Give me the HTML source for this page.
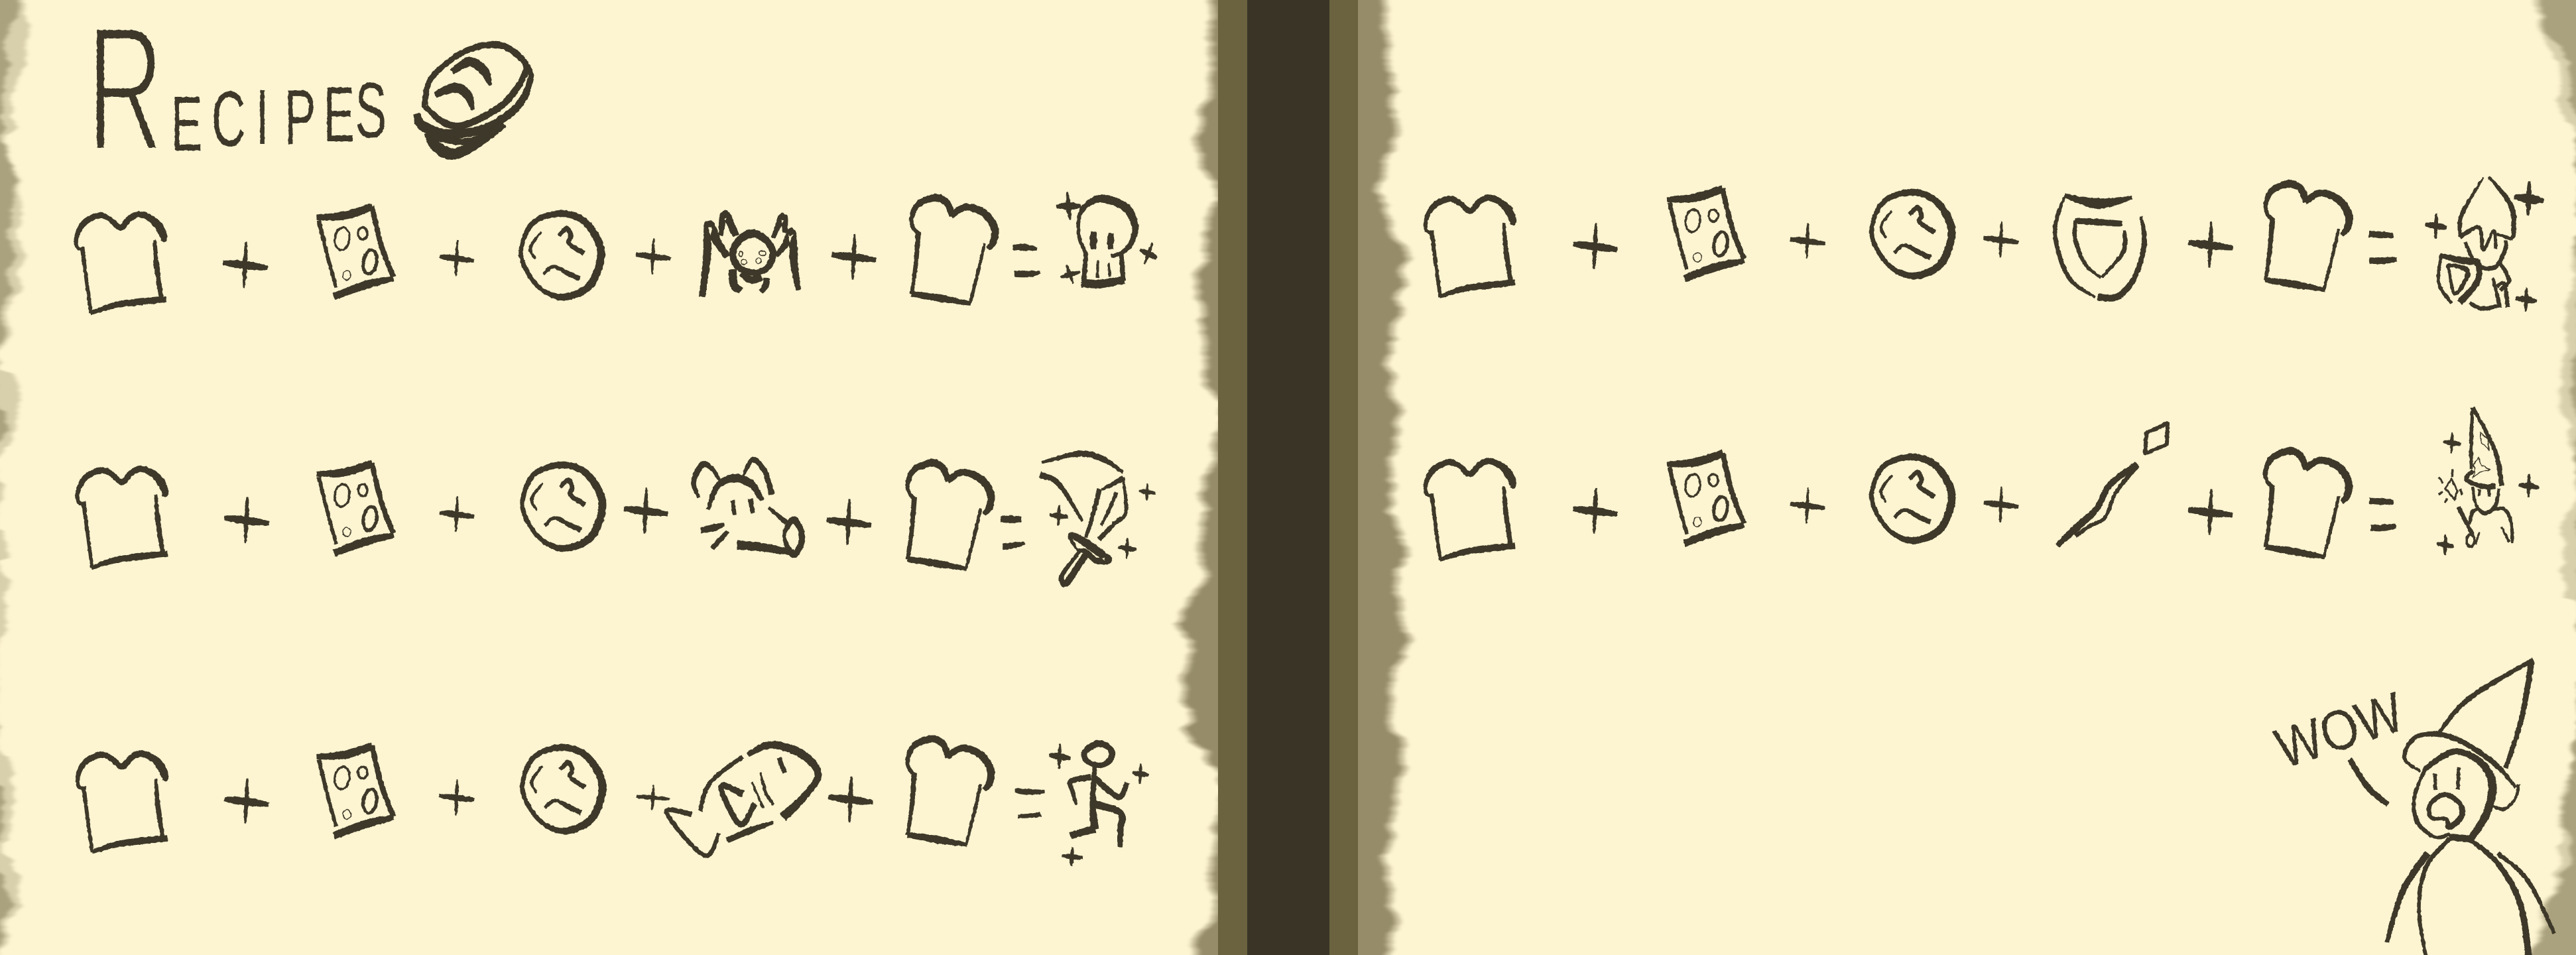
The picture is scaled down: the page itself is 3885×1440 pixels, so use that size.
<!DOCTYPE html>
<html lang="en">
<head>
<meta charset="utf-8">
<title>Recipes</title>
<style>
html,body{margin:0;padding:0;background:#fdf4d1}
svg{display:block}
path[data-brush]{fill:#3d3829;stroke:#3d3829;stroke-width:1.2;stroke-linejoin:round;fill-rule:evenodd}
ellipse,polygon.line{fill:none;stroke:#3d3829;stroke-width:3.5}
.ink text{font-family:"Liberation Sans",sans-serif;fill:#3d3829}
</style>
</head>
<body>
<svg xmlns="http://www.w3.org/2000/svg" width="3885" height="1440" viewBox="0 0 3885 1440">
<defs>
  <filter id="torn" filterUnits="userSpaceOnUse" x="-60" y="-60" width="4005" height="1560" color-interpolation-filters="sRGB">
    <feTurbulence type="fractalNoise" baseFrequency="0.003 0.035" numOctaves="3" seed="7" result="n"/>
    <feDisplacementMap in="SourceGraphic" in2="n" scale="30" xChannelSelector="R" yChannelSelector="A"/>
    <feGaussianBlur stdDeviation="3.5 0.8"/>
  </filter>
  <filter id="rough" filterUnits="userSpaceOnUse" x="0" y="0" width="3885" height="1440" color-interpolation-filters="sRGB">
    <feTurbulence type="fractalNoise" baseFrequency="0.18" numOctaves="2" seed="3" result="n"/>
    <feDisplacementMap in="SourceGraphic" in2="n" scale="3" xChannelSelector="R" yChannelSelector="G"/>
  </filter>
  <g id="bread-a">
    <path data-brush="124 376 2, 116 372 3, 116 355 4, 128 335 6, 150 325 6, 165 330 5, 182 343 6, 195 330 6, 210 323 6, 228 330 7, 240 342 9, 247 358 7, 245 364 3"/>
    <path data-brush="233 362 2, 236 400 5, 243 448 4"/>
    <path data-brush="124 373 4, 130 420 3, 137 472 3"/>
    <path data-brush="137 472 3, 170 461 6, 210 455 7, 250 451 6"/>
  </g>
  <g id="bread-b">
    <path data-brush="1385 352 4, 1377 343 3, 1375 328 4, 1385 308 6, 1411 298 8, 1428 306 7, 1436 325 6"/>
    <path data-brush="1435 325 6, 1457 312 7, 1485 322 8, 1500 345 8, 1498 365 7, 1490 375 4"/>
    <path data-brush="1385 350 5, 1381 400 4, 1375 443 3"/>
    <path data-brush="1485 367 2, 1475 410 3, 1463 457 2"/>
    <path data-brush="1375 443 5, 1420 450 8, 1464 458 3"/>
  </g>
  <g id="oven">
    <path data-brush="478 328 5, 520 325 9, 561 312 8"/>
    <path data-brush="561 312 5, 575 370 5, 593 417 5"/>
    <path data-brush="593 420 5, 550 430 9, 504 447 7"/>
    <path data-brush="481 333 4, 495 390 3, 507 433 3"/>
    <ellipse cx="516" cy="360" rx="11" ry="17" transform="rotate(8 516 360)"/>
    <ellipse cx="547" cy="352" rx="7" ry="9"/>
    <ellipse cx="558" cy="395" rx="10" ry="18" transform="rotate(10 558 395)" style="stroke-width:5"/>
    <ellipse cx="523" cy="415" rx="6" ry="7" style="stroke-width:1.5"/>
  </g>
  <g id="dough">
    <path data-closed="1" data-brush="845 322 7, 880 333 7, 903 365 8, 905 395 8, 888 432 8, 850 448 7, 815 435 4, 790 400 4, 787 370 4, 805 335 5"/>
    <path data-brush="843 355 3, 855 345 5, 861 357 4, 858 367 4, 880 382 5"/>
    <path data-brush="816 350 1, 800 373 3, 807 390 1"/>
    <path data-brush="820 413 3, 835 402 3, 858 413 5, 874 420 5"/>
  </g>
  <g id="plus">
    <path data-brush="-33 -4 4, -15 -2 8, 10 1 8, 33 4 4"/>
    <path data-brush="1 -35 1, 0 -10 4, -1 10 4, -2 33 1"/>
  </g>
  <g id="spark">
    <path data-brush="-33 -4 5, -12 -2 13, 12 1 13, 33 4 5"/>
    <path data-brush="1 -35 3, 0 -10 9, -1 10 9, -2 33 3"/>
  </g>
</defs>

<rect width="3885" height="1440" fill="#fdf4d1"/>

<g filter="url(#torn)">
  <polygon fill="#aaa17e" opacity=".45" points="-30,-30 45,-30 35,20 48,41 40,90 25,125 15,150 22,185 12,215 15,239 24,265 32,320 30,360 31,395 30,430 12,470 12,500 8,530 -5,548 -5,555 22,565 30,605 20,650 16,675 -5,690 -5,730 6,745 -5,770 -5,790 10,810 10,840 -5,850 14,875 12,910 8,935 8,950 -5,975 -5,1130 11,1140 22,1180 18,1230 14,1255 2,1285 24,1310 27,1340 30,1370 10,1395 6,1420 -5,1470 -30,1470"/>
  <polygon fill="#aaa17e" points="-30,-30 37,-30 25,30 8,60 12,100 3,145 5,210 14,240 22,275 17,320 17,395 12,440 3,478 5,515 -10,545 -10,610 8,620 10,650 -10,680 -10,1170 4,1180 5,1250 -10,1280 -10,1300 8,1340 20,1365 2,1395 -10,1470 -30,1470"/>
</g>
<g filter="url(#torn)">
  <polygon fill="#aaa17e" opacity=".45" points="3822,-30 3832,46 3858,101 3865,184 3895,211 3895,321 3873,441 3863,551 3863,624 3882,670 3895,700 3870,780 3862,845 3868,909 3895,918 3895,1083 3863,1185 3865,1249 3848,1340 3828,1387 3817,1470 3915,1470 3915,-30"/>
  <polygon fill="#aaa17e" points="3835,-30 3837,46 3865,73 3873,119 3890,184 3890,500 3878,540 3880,600 3890,640 3890,1100 3872,1148 3868,1230 3878,1276 3857,1331 3835,1387 3818,1470 3915,1470 3915,-30"/>
</g>
<g filter="url(#torn)">
  <polygon fill="#968c6a" opacity=".5" points="1813,-30 1820,55 1827,119 1813,156 1805,211 1817,257 1832,294 1817,340 1807,404 1803,450 1813,505 1817,560 1836,611 1833,643 1817,707 1803,808 1813,863 1800,900 1775,937 1790,973 1782,1038 1787,1102 1827,1157 1835,1194 1828,1286 1818,1322 1827,1359 1803,1423 1800,1470 1860,1470 1860,-30"/>
  <polygon fill="#968c6a" transform="translate(9 0)" points="1813,-30 1820,55 1827,119 1813,156 1805,211 1817,257 1832,294 1817,340 1807,404 1803,450 1813,505 1817,560 1836,611 1833,643 1817,707 1803,808 1813,863 1800,900 1775,937 1790,973 1782,1038 1787,1102 1827,1157 1835,1194 1828,1286 1818,1322 1827,1359 1803,1423 1800,1470 1860,1470 1860,-30"/>
</g>
<g filter="url(#torn)">
  <polygon fill="#968c6a" opacity=".5" points="2090,-30 2095,55 2100,119 2107,211 2085,285 2100,340 2122,386 2113,450 2097,551 2115,624 2107,716 2100,780 2130,808 2107,863 2115,937 2133,964 2100,1010 2107,1084 2120,1157 2093,1286 2108,1396 2093,1470 2030,1470 2030,-30"/>
  <polygon fill="#968c6a" transform="translate(-9 0)" points="2090,-30 2095,55 2100,119 2107,211 2085,285 2100,340 2122,386 2113,450 2097,551 2115,624 2107,716 2100,780 2130,808 2107,863 2115,937 2133,964 2100,1010 2107,1084 2120,1157 2093,1286 2108,1396 2093,1470 2030,1470 2030,-30"/>
</g>

<g>
  <rect x="1837" y="0" width="44" height="1440" fill="#6b623f"/>
  <rect x="1881" y="0" width="124" height="1440" fill="#393426"/>
  <rect x="2005" y="0" width="43" height="1440" fill="#6b623f"/>
</g>

<g class="ink" filter="url(#rough)">

  <text transform="scale(.6 1)"><tspan x="218" y="226" font-size="268" stroke="#fdf4d1" stroke-width="7">R</tspan><tspan x="430 532 643 715 813 893" y="227 220 217 217 213 207" font-size="118">ECIPES</tspan></text>

  <g>
    <path data-closed="1" data-brush="641 157 6, 651 117 5, 702 77 6, 753 68 7, 788 90 6, 791 113 6, 759 157 7, 702 188 7, 670 185 7, 644 163 5"/>
    <path data-brush="682 108 6, 708 93 10, 730 107 10, 739 128 3"/>
    <path data-brush="657 143 6, 686 132 11, 705 143 10, 713 165 3"/>
    <path data-brush="797 98 2, 800 120 6, 781 160 8, 733 193 9, 676 202 10, 638 190 11, 628 172 7"/>
    <path data-brush="759 187 8, 714 220 10, 682 232 13, 657 220 12, 647 200 10"/>
    <path data-brush="650 205 7, 702 214 7, 750 197 7"/>
  </g>

  <g>
    <use href="#bread-a"/>
    <use href="#plus" transform="translate(370 400)"/>
    <use href="#oven"/>
    <use href="#plus" transform="translate(689 390) scale(.78)"/>
    <use href="#dough"/>
    <use href="#plus" transform="translate(985 387) scale(.78)"/>
    <g>
      <path data-brush="1059 447 6, 1066 390 8, 1069 338 9, 1082 365 9, 1097 387 6"/>
      <path data-brush="1087 355 4, 1093 323 9, 1110 355 7"/>
      <path data-brush="1204 437 4, 1198 400 8, 1194 350 9, 1185 368 7, 1171 385 4"/>
      <path data-brush="1166 358 3, 1181 327 9, 1184 350 4"/>
      <path data-closed="1" data-brush="1135 352 9, 1155 362 7, 1166 382 7, 1156 405 6, 1135 411 6, 1113 402 7, 1105 382 7, 1115 362 8"/>
      <path data-brush="1105 407 8, 1107 430 9, 1117 438 7"/>
      <path data-brush="1118 412 6, 1133 422 8, 1148 417 8"/>
      <path data-brush="1156 420 7, 1155 430 6, 1148 440 5"/>
      <ellipse cx="1117" cy="383" rx="3" ry="4" style="stroke-width:1.5"/>
      <ellipse cx="1150" cy="382" rx="5" ry="4" style="stroke-width:1.5"/>
      <ellipse cx="1122" cy="395" rx="4" ry="4" style="stroke-width:1.5"/>
      <ellipse cx="1144" cy="393" rx="4" ry="4" style="stroke-width:1.5"/>
    </g>
    <use href="#plus" transform="translate(1288 388)"/>
    <use href="#bread-b"/>
    <g>
      <path data-brush="1528 373 5, 1545 373 7, 1563 375 3"/>
      <path data-brush="1530 413 6, 1550 413 7, 1568 411 3"/>
    </g>
    <g>
      <path data-brush="1638 383 3, 1627 355 3, 1630 320 4, 1650 302 7, 1672 301 9, 1700 315 9, 1712 343 7, 1705 368 5, 1690 382 4, 1676 386 3"/>
      <path data-brush="1638 383 4, 1634 427 5"/>
      <path data-brush="1691 383 4, 1694 423 5"/>
      <path data-brush="1632 427 9, 1660 428 9, 1695 422 8"/>
      <path data-brush="1649 350 5, 1649 362 8, 1649 375 5"/>
      <path data-brush="1676 352 5, 1675 362 7, 1675 375 5"/>
      <path data-brush="1656 393 1, 1655 418 2"/>
      <path data-brush="1672 397 1, 1674 417 2"/>
      <use href="#spark" transform="translate(1612 311) rotate(-8) scale(.55 .6)"/>
      <use href="#spark" transform="translate(1732 383) rotate(18) scale(.42 .5)"/>
      <use href="#spark" transform="translate(1614 414) rotate(-22) scale(.45 .42)"/>
    </g>
  </g>

  <g>
    <use href="#bread-a" transform="translate(2 384)"/>
    <use href="#plus" transform="translate(372 785)"/>
    <use href="#oven" transform="translate(0 387)"/>
    <use href="#plus" transform="translate(689 776) scale(.78)"/>
    <use href="#dough" transform="translate(2 379)"/>
    <use href="#plus" transform="translate(974 771)"/>
    <g>
      <path data-brush="1054 750 2, 1046 727 5, 1059 701 6, 1074 707 4, 1087 727 2"/>
      <path data-brush="1121 717 2, 1135 693 5, 1153 710 5, 1164 745 6"/>
      <path data-brush="1068 768 3, 1082 733 6, 1107 721 9, 1133 730 8, 1149 754 4"/>
      <path data-brush="1105 755 4, 1108 776 3"/>
      <path data-brush="1132 753 5, 1135 773 4"/>
      <path data-brush="1160 766 2, 1186 788 5"/>
      <path data-closed="1" data-brush="1196 784 7, 1208 800 6, 1208 820 6, 1198 836 7, 1188 825 5, 1183 805 3"/>
      <path data-brush="1112 822 10, 1148 825 9, 1196 833 6"/>
      <path data-brush="1057 800 5, 1075 796 8, 1092 791 3"/>
      <path data-brush="1074 827 5, 1085 815 5, 1097 802 3"/>
    </g>
    <use href="#plus" transform="translate(1280 788)"/>
    <use href="#bread-b" transform="translate(-6 400)"/>
    <g>
      <path data-brush="1509 783 6, 1525 783 8, 1540 783 5"/>
      <path data-brush="1513 824 6, 1530 822 6, 1545 819 2"/>
    </g>
    <g>
      <path data-brush="1572 697 2, 1628 684 6, 1663 692 6, 1693 712 2"/>
      <path data-brush="1569 716 7, 1597 730 5, 1632 785 2"/>
      <path data-brush="1638 810 3, 1650 770 4, 1658 738 5"/>
      <path data-brush="1662 738 2, 1678 730 4, 1694 721 5"/>
      <path data-brush="1694 721 2, 1698 772 3, 1680 790 4, 1658 813 5"/>
      <path data-brush="1684 743 3, 1672 770 3, 1661 792 2"/>
      <path data-closed="1" data-brush="1617 807 6, 1640 820 9, 1663 837 8, 1671 845 8, 1653 845 6, 1638 832 5, 1625 828 2, 1615 813 3"/>
      <path data-brush="1628 832 3, 1602 867 4, 1607 880 7, 1625 855 7, 1640 833 6"/>
      <use href="#spark" transform="translate(1730 742) scale(.38)"/>
      <use href="#spark" transform="translate(1597 778) scale(.42 .45)"/>
      <use href="#spark" transform="translate(1700 827) scale(.42 .45)"/>
    </g>
  </g>

  <g>
    <use href="#bread-a" transform="translate(2 813)"/>
    <use href="#plus" transform="translate(372 1209)"/>
    <use href="#oven" transform="translate(0 813)"/>
    <use href="#plus" transform="translate(689 1203) scale(.78)"/>
    <use href="#dough" transform="translate(2 805)"/>
    <use href="#plus" transform="translate(985 1203) scale(.75 .55)"/>
    <g>
      <path data-brush="1056 1222 4, 1071 1180 4, 1120 1141 4"/>
      <path data-brush="1128 1138 4, 1163 1123 8, 1209 1137 9, 1234 1167 7, 1214 1200 7, 1181 1232 10"/>
      <path data-brush="1097 1267 5, 1130 1253 7, 1166 1240 2"/>
      <path data-brush="1175 1143 4, 1183 1165 4"/>
      <path data-brush="1120 1197 7, 1087 1186 5, 1116 1243 6, 1138 1212 5"/>
      <path data-brush="1134 1180 1, 1151 1218 2"/>
      <path data-brush="1147 1165 1, 1155 1195 3, 1166 1213 2"/>
      <path data-brush="1043 1228 5, 1005 1225 4, 1062 1290 4, 1084 1257 3"/>
    </g>
    <use href="#plus" transform="translate(1283 1206)"/>
    <use href="#bread-b" transform="translate(-6 816)"/>
    <g>
      <path data-brush="1531 1192 4, 1552 1194 6, 1575 1194 3"/>
      <path data-brush="1536 1231 3, 1552 1230 4, 1569 1228 5"/>
    </g>
    <g>
      <path data-closed="1" data-brush="1656 1121 7, 1675 1130 6, 1675 1145 6, 1660 1154 5, 1640 1148 5, 1636 1134 6"/>
      <path data-brush="1651 1157 4, 1648 1212 6, 1651 1250 9"/>
      <path data-brush="1645 1172 6, 1615 1178 5, 1618 1195 4, 1623 1213 2"/>
      <path data-brush="1651 1173 6, 1670 1190 6, 1689 1202 5, 1700 1180 5"/>
      <path data-brush="1648 1212 8, 1689 1225 7, 1690 1250 6, 1689 1277 4"/>
      <path data-brush="1651 1250 8, 1635 1254 7, 1615 1260 7"/>
      <use href="#spark" transform="translate(1598 1141) scale(.48 .55)"/>
      <use href="#spark" transform="translate(1720 1167) scale(.38 .45)"/>
      <use href="#spark" transform="translate(1617 1292) scale(.48 .42)"/>
    </g>
  </g>

  <g>
    <use href="#bread-a" transform="translate(2035 -25)"/>
    <use href="#plus" transform="translate(2406 372)"/>
    <use href="#oven" transform="translate(2037 -27)"/>
    <use href="#plus" transform="translate(2726 364) scale(.78)"/>
    <use href="#dough" transform="translate(2037 -32)"/>
    <use href="#plus" transform="translate(3018 362) scale(.78)"/>
    <g>
      <path data-brush="3114 295 3, 3164 307 12, 3215 298 3"/>
      <path data-brush="3113 298 2, 3099 350 4, 3119 417 4, 3159 448 2"/>
      <path data-brush="3229 327 2, 3234 367 5, 3220 417 5, 3194 447 7, 3164 448 7"/>
      <path data-brush="3130 333 5, 3165 335 7, 3200 337 5"/>
      <path data-brush="3130 333 3, 3130 363 4, 3146 400 3, 3168 418 2"/>
      <path data-brush="3204 348 3, 3202 380 4, 3170 418 2"/>
    </g>
    <use href="#plus" transform="translate(3334 370)"/>
    <use href="#bread-b" transform="translate(2042 -21)"/>
    <g>
      <path data-brush="3573 353 6, 3590 354 7, 3609 355 4"/>
      <path data-brush="3574 393 6, 3595 393 7, 3614 391 4"/>
    </g>
    <g>
      <path data-brush="3745 268 1, 3713 323 4, 3710 357 3"/>
      <path data-brush="3754 267 2, 3787 310 5, 3791 350 4, 3787 360 3"/>
      <path data-brush="3710 357 4, 3739 343 3, 3745 377 3, 3761 348 2, 3764 375 3"/>
      <path data-brush="3766 353 2, 3787 360 3"/>
      <path data-brush="3718 365 3, 3729 390 3, 3742 403 4, 3764 402 4, 3778 377 4, 3779 363 3"/>
      <path data-brush="3680 385 4, 3710 392 7, 3737 395 7"/>
      <path data-brush="3681 388 2, 3678 427 3, 3697 457 3"/>
      <path data-brush="3737 392 5, 3737 423 6, 3710 456 7"/>
      <path data-closed="1" data-brush="3694 400 3, 3720 407 5, 3718 423 4, 3702 443 3, 3694 410 2"/>
      <path data-brush="3771 397 3, 3784 423 4, 3771 437 3"/>
      <path data-brush="3725 457 3, 3742 465 4, 3766 462 3"/>
      <path data-brush="3760 420 2, 3770 463 4"/>
      <path data-brush="3766 432 3, 3777 428 3, 3782 463 4"/>
      <use href="#spark" transform="translate(3814 300) scale(.66 .75)"/>
      <use href="#spark" transform="translate(3674 341) scale(.48 .55)"/>
      <use href="#spark" transform="translate(3810 452) scale(.48 .52)"/>
    </g>
  </g>

  <g>
    <use href="#bread-a" transform="translate(2035 372)"/>
    <use href="#plus" transform="translate(2406 771)"/>
    <use href="#oven" transform="translate(2037 372)"/>
    <use href="#plus" transform="translate(2726 763) scale(.78)"/>
    <use href="#dough" transform="translate(2037 367)"/>
    <use href="#plus" transform="translate(3018 761) scale(.78)"/>
    <g>
      <polygon class="line" points="3237,653 3269,638 3268,670 3235,684" style="stroke-width:6;stroke-linejoin:round"/>
      <path data-brush="3103 822 5, 3138 790 8, 3162 767 6, 3183 730 6, 3223 700 6"/>
      <path data-brush="3223 702 5, 3191 743 3, 3175 780 3, 3154 792 3, 3130 808 4"/>
    </g>
    <use href="#plus" transform="translate(3334 773)"/>
    <use href="#bread-b" transform="translate(2042 382)"/>
    <g>
      <path data-brush="3574 755 6, 3592 756 7, 3609 757 4"/>
      <path data-brush="3576 796 6, 3595 796 7, 3613 793 4"/>
    </g>
    <g>
      <path data-brush="3729 615 3, 3727 660 3, 3727 707 3"/>
      <path data-brush="3730 615 3, 3763 680 4, 3773 732 5"/>
      <path data-brush="3729 710 3, 3720 723 4, 3742 733 4, 3763 733 6"/>
      <polygon class="line" points="3741,652 3752,662 3754,678 3747,672 3742,668" style="stroke-width:1.5"/>
      <polygon class="line" points="3738,690 3742,702 3755,708 3740,712 3730,720 3733,706 3730,702" style="stroke-width:1.5"/>
      <path data-brush="3729 735 2, 3734 760 2, 3747 774 4, 3763 763 3, 3769 737 2"/>
      <path data-brush="3739 738 2, 3739 747 2"/>
      <path data-brush="3754 738 3, 3754 748 2"/>
      <path data-brush="3724 790 2, 3729 772 4, 3737 768 2"/>
      <path data-brush="3758 768 3, 3777 768 3, 3787 787 3, 3789 818 2"/>
      <path data-brush="3773 795 1, 3784 817 2"/>
      <path data-brush="3708 765 4, 3729 807 3"/>
      <ellipse cx="3726" cy="815" rx="6" ry="9" style="stroke-width:4"/>
      <path data-brush="3739 803 1, 3734 820 1"/>
      <polygon class="line" points="3697,722 3706,740 3702,753 3688,737" style="stroke-width:3"/>
      <path data-brush="3678 720 1, 3684 728 1"/>
      <path data-brush="3699 708 1, 3698 718 2"/>
      <path data-brush="3678 745 1, 3684 742 1"/>
      <path data-brush="3710 738 2, 3713 745 1"/>
      <path data-brush="3690 752 1, 3688 758 1"/>
      <use href="#spark" transform="translate(3698 668) scale(.4 .45)"/>
      <use href="#spark" transform="translate(3814 733) scale(.45 .5)"/>
      <use href="#spark" transform="translate(3688 822) scale(.38 .45)"/>
    </g>
  </g>

  <g>
    <text transform="translate(3444 1159) rotate(-18)" font-size="85" textLength="196" lengthAdjust="spacingAndGlyphs">WOW</text>
    <path data-brush="3544 1145 5, 3571 1187 6, 3601 1213 5"/>
    <path data-brush="3678 1105 3, 3724 1053 5, 3820 995 4"/>
    <path data-brush="3818 998 6, 3803 1083 5, 3779 1158 4"/>
    <path data-brush="3650 1163 2, 3626 1143 3, 3641 1113 4, 3676 1107 5, 3716 1120 5, 3764 1153 5, 3794 1187 2"/>
    <path data-brush="3798 1183 3, 3794 1203 2, 3777 1220 3, 3759 1215 2"/>
    <path data-brush="3657 1160 3, 3641 1203 3, 3646 1240 4, 3672 1262 3, 3694 1258 3"/>
    <path data-brush="3657 1160 4, 3680 1143 6, 3707 1133 6, 3742 1150 7, 3759 1183 9, 3750 1227 8, 3726 1265 7"/>
    <path data-brush="3672 1167 3, 3673 1190 3"/>
    <path data-brush="3708 1158 3, 3707 1190 3"/>
    <path data-closed="1" data-brush="3687 1198 5, 3711 1213 5, 3711 1233 6, 3694 1247 6, 3689 1235 3, 3667 1233 4, 3665 1213 4"/>
    <path data-brush="3694 1262 7, 3726 1265 7"/>
    <path data-brush="3694 1265 4, 3659 1307 4, 3648 1370 3, 3659 1445 3"/>
    <path data-brush="3724 1265 4, 3768 1303 5, 3801 1363 6, 3814 1445 7"/>
    <path data-brush="3661 1287 7, 3624 1343 6, 3600 1420 4"/>
    <path data-brush="3767 1287 4, 3812 1327 4, 3852 1407 3"/>
  </g>
</g>

<script>
document.querySelectorAll('path[data-brush]').forEach(function (p) {
  var pts = p.getAttribute('data-brush').split(',').map(function (s) {
    return s.trim().split(/\s+/).map(Number);
  });
  var closed = p.hasAttribute('data-closed');
  var n = pts.length;
  var get = function (i) {
    return closed ? pts[(i + n) % n] : pts[Math.max(0, Math.min(n - 1, i))];
  };
  var segs = closed ? n : n - 1;
  var steps = 8;
  var s = [];
  for (var i = 0; i < segs; i++) {
    var a = get(i - 1), b = get(i), c = get(i + 1), d = get(i + 2);
    for (var k = 0; k < steps; k++) {
      var t = k / steps, t2 = t * t, t3 = t2 * t;
      var q = [0, 1].map(function (j) {
        return 0.5 * (2 * b[j] + (c[j] - a[j]) * t + (2 * a[j] - 5 * b[j] + 4 * c[j] - d[j]) * t2 + (3 * b[j] - a[j] - 3 * c[j] + d[j]) * t3);
      });
      q.push(b[2] + (c[2] - b[2]) * t);
      s.push(q);
    }
  }
  if (!closed) s.push(pts[n - 1].slice());
  var m = s.length, L = [], R = [];
  for (var u = 0; u < m; u++) {
    var pv = closed ? s[(u - 1 + m) % m] : s[Math.max(0, u - 1)];
    var nx = closed ? s[(u + 1) % m] : s[Math.min(m - 1, u + 1)];
    var dx = nx[0] - pv[0], dy = nx[1] - pv[1];
    var len = Math.sqrt(dx * dx + dy * dy) || 1;
    var h = (s[u][2] * 1.25 + 0.6) / 2;
    L.push((s[u][0] - dy / len * h).toFixed(1) + ' ' + (s[u][1] + dx / len * h).toFixed(1));
    R.push((s[u][0] + dy / len * h).toFixed(1) + ' ' + (s[u][1] - dx / len * h).toFixed(1));
  }
  var path = closed
    ? 'M' + L.join('L') + 'Z M' + R.join('L') + 'Z'
    : 'M' + L.join('L') + 'L' + R.reverse().join('L') + 'Z';
  p.setAttribute('d', path);
});
</script>
</svg>
</body>
</html>
